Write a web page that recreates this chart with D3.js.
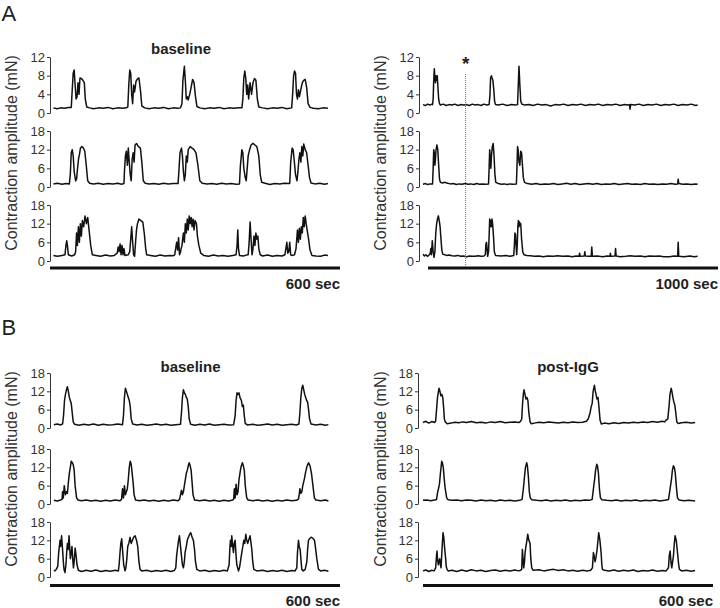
<!DOCTYPE html>
<html><head><meta charset="utf-8">
<script src="https://cdn.jsdelivr.net/npm/d3@7"></script>
<style>body{margin:0;background:#fff}svg{display:block}</style>
</head><body>
<svg id="c" width="720" height="608"></svg>
<script>
// ---------- DATA: [time (s), force (mN)] ----------
const ticks12 = [0, 4, 8, 12];
const ticks18 = [0, 6, 12, 18];
const yLabel = "Contraction amplitude (mN)";
const panelTitles = ["baseline", "baseline", "post-IgG"];
const scaleBars = ["600 sec", "1000 sec", "600 sec", "600 sec"];
const starTime = 147;

const aLeftTop = [[7,1.1],[15,0.9],[22,1.1],[30,1.0],[38,1.2],[44,1.2],[46,5],[48,8.5],[50,9.2],[52,6],[54,3],[56,3.5],[58,6.5],[60,4],[62,7.5],[65,7.4],[68,7],[71,6.5],[73,3],[76,1.3],[82,1.1],[90,0.9],[100,1.1],[110,1.0],[120,1.2],[130,0.9],[140,1.1],[150,1.0],[158,1.1],[161,1.3],[163,6],[165,9.2],[167,8.5],[169,4],[171,2],[173,6],[175,4.5],[178,6.8],[181,7.3],[184,7.5],[187,5],[190,1.5],[196,1.1],[205,0.9],[215,1.1],[225,1.0],[235,1.2],[245,0.9],[255,1.1],[264,1.0],[270,1.1],[273,2],[275,7],[278,10],[280,7],[282,3],[284,3.5],[286,2.8],[289,4],[292,5.5],[295,7.2],[298,6.5],[301,3.5],[304,1.4],[310,1.1],[320,0.9],[330,1.1],[340,1.0],[350,1.2],[360,0.9],[370,1.1],[380,1.0],[390,1.1],[397,1.1],[399,3],[401,7.5],[403,9],[405,7.5],[407,4],[409,6],[411,3],[414,6.5],[417,4],[420,6.5],[423,7.4],[426,7],[429,3],[432,1.3],[440,1.1],[450,0.9],[460,1.1],[470,1.0],[480,1.2],[490,0.9],[500,1.1],[502,4],[504,8],[506,9],[508,8.5],[510,4],[512,3],[514,5],[516,3.5],[519,5],[522,6.5],[525,7],[528,7.2],[531,5.5],[534,2],[538,1.2],[545,1.0],[555,0.9],[565,1.1],[575,1.0]];

const aLeftMid = [[7,1.0],[15,1.2],[25,0.9],[33,1.1],[40,1.0],[42,4],[44,11],[46,12],[48,10],[50,5],[53,2],[55,2.5],[57,6],[59,9],[61,10.5],[63,12.5],[66,13],[69,12.5],[72,11.5],[75,7],[78,2],[82,1.2],[90,1.0],[100,1.2],[110,0.9],[120,1.1],[130,1.0],[140,1.2],[148,0.9],[153,1.1],[154,5],[156,10],[158,11.5],[160,7],[162,12.5],[164,8],[166,4],[168,2],[170,9],[172,11],[174,8],[176,13.5],[179,14],[183,13],[187,12.5],[190,8],[193,2],[197,1.2],[205,1.0],[215,1.1],[225,0.9],[235,1.2],[245,1.0],[255,1.1],[265,1.1],[267,6],[269,11],[272,12.5],[274,10],[276,5],[278,2],[280,4],[282,10],[284,8],[286,12],[290,13],[294,12.5],[298,12],[302,11],[306,7],[310,2],[315,1.2],[325,1.0],[335,1.1],[345,0.9],[355,1.2],[365,1.0],[375,1.1],[385,0.9],[392,1.0],[394,7],[397,12],[399,11],[401,6],[404,3],[406,2],[408,6],[410,10],[413,12],[416,13.5],[420,14],[424,13.5],[428,13],[432,10],[435,4],[438,1.5],[445,1.2],[455,0.8],[465,1.1],[475,1.0],[485,1.2],[496,1.1],[498,8],[501,12.5],[503,12],[505,9],[508,4],[511,2],[513,5],[515,9],[517,11],[519,8],[521,13],[523,10],[525,13.8],[528,12],[531,11],[534,7],[537,3],[540,1.3],[548,1.0],[558,1.2],[568,0.9],[575,1.1]];

const aLeftBot = [[7,1.8],[15,1.5],[25,1.8],[31,2],[33,5],[34.6,6.5],[36,5],[38,2],[45,1.6],[51,2],[53,3],[55,9],[56.6,5],[58.7,11],[60.8,6],[62.8,12],[64.9,8],[67,13],[69.7,11],[72.5,14.5],[75.3,12],[78,14],[80.8,10],[84.2,5],[87.7,2],[95,1.8],[105,1.5],[115,1.9],[125,1.6],[133,1.8],[139,2.5],[141,4.5],[143,3],[145,5.5],[147,2],[149,5],[151,2],[153,4],[155,1.8],[162,2],[165,3],[167,7],[169,11],[171,6],[173,2],[175,1.5],[177,6],[179,10],[181,12],[184,13.5],[188,13],[192,12.5],[195,9],[198,4],[200,2],[208,1.8],[218,1.5],[228,1.9],[238,1.6],[248,1.8],[255,1.7],[258,2],[260,4],[262,6],[264,3.5],[266,7.5],[268,2],[270,3],[273,5],[276,9],[278,6],[280,12],[282,9],[284,13.5],[286,10],[288,14.5],[290,12],[292,14],[294,11],[296,13.5],[298,10],[300,13],[303,12],[305,8],[308,5],[312,2.5],[318,1.8],[328,1.5],[338,1.9],[348,1.6],[358,1.8],[368,1.5],[378,1.8],[385,2],[387,5],[388.5,10],[390,4],[392,1.8],[400,1.6],[406,1.9],[410,2],[412,6],[414,12.5],[416,7],[418,2],[420,4],[422,8],[424,5],[426,9],[428,7],[430,8],[432,4],[435,2],[440,1.6],[450,1.9],[460,1.5],[470,1.8],[480,1.6],[486,2],[488,4],[490,6],[492,2.5],[494,3],[496,6],[498,2],[500,1.8],[506,2],[509,4],[512,10],[514,6],[516,10.5],[518,7],[520,11],[522,9],[524,14],[526,11],[528,14.5],[530,12],[532,10],[535,7],[538,3.5],[542,1.8],[550,1.6],[560,1.5],[568,1.9],[575,1.8]];

const aRightTop = [[0,1.8],[8,1.6],[16,1.9],[24,1.7],[30,1.9],[33,1.8],[35,3],[37,7],[39,9.5],[41,7.5],[43,6.5],[45,8],[47,7],[49,8],[51,6],[54,3],[57,2],[60,1.7],[70,1.9],[80,1.6],[90,1.8],[100,1.7],[110,1.9],[120,1.6],[130,1.8],[140,1.7],[150,1.8],[160,1.6],[170,1.9],[180,1.7],[190,1.8],[200,1.6],[210,1.9],[220,1.7],[228,1.8],[231,4],[233,7.5],[236,8],[238,7.5],[241,7],[244,5],[247,2.5],[250,1.8],[260,1.7],[275,1.9],[290,1.6],[305,1.8],[320,1.7],[326,1.8],[328,5],[331,10],[334,6],[337,2.5],[341,1.9],[350,1.7],[365,1.8],[380,1.6],[395,1.9],[410,1.7],[425,1.8],[440,1.5],[455,1.8],[470,1.7],[485,1.9],[500,1.6],[515,1.8],[530,1.7],[545,1.9],[560,1.6],[575,1.8],[590,1.7],[605,1.9],[620,1.6],[635,1.8],[650,1.7],[665,1.9],[680,1.6],[695,1.8],[708,1.7],[712,1.8],[714,0.8],[716,1.8],[730,1.7],[745,1.9],[760,1.6],[775,1.8],[790,1.7],[805,1.9],[820,1.6],[835,1.8],[850,1.7],[865,1.9],[880,1.6],[895,1.8],[910,1.7],[925,1.9],[940,1.6],[947,1.7]];

const aRightMid = [[0,0.9],[8,1.1],[16,0.8],[24,1.0],[33,1.0],[35,6],[37,12],[39,11],[41,7],[43,9],[45,12],[48,13.5],[51,12],[54,7],[57,2.5],[60,1.5],[67,1.3],[75,1.5],[85,1.2],[95,1.0],[105,1.1],[115,0.8],[125,1.0],[135,0.9],[145,1.1],[155,0.9],[165,1.0],[175,0.8],[185,1.1],[195,0.9],[205,1.0],[215,0.9],[226,1.0],[228,6],[230,12],[232,9],[234,6],[236,10],[239,13],[242,14],[245,10],[248,4],[251,1.5],[260,1.1],[270,0.9],[280,1.0],[290,0.8],[300,1.0],[310,0.9],[322,1.0],[324,6],[326,13],[328,12],[331,8],[334,7],[337,11.5],[340,11],[343,7],[346,3],[350,1.5],[360,1.1],[375,0.9],[390,1.1],[405,0.8],[420,1.0],[435,0.9],[450,1.1],[465,0.8],[480,1.0],[495,1.2],[510,0.9],[525,1.1],[540,0.8],[555,1.0],[570,1.1],[585,0.9],[600,1.1],[615,0.8],[630,1.0],[645,0.9],[660,1.1],[675,0.8],[690,1.0],[705,1.1],[720,0.9],[735,1.0],[750,0.8],[765,1.1],[780,0.9],[795,1.0],[810,0.8],[825,1.0],[840,0.9],[855,1.1],[870,0.9],[878,1.0],[880,2.5],[882,1.1],[895,0.9],[910,1.0],[925,0.8],[940,1.0],[947,0.9]];

const aRightBot = [[0,2.2],[5,1.6],[10,2],[15,1.5],[20,1.8],[25,2.5],[27,4],[29,2],[32,6.5],[35,3],[38,1.2],[41,3],[44,9],[47,12],[50,13.5],[53,14.5],[56,13],[59,11],[62,7],[65,3.5],[68,2.2],[75,2],[82,1.8],[90,1.9],[100,1.7],[110,1.6],[120,1.8],[130,1.5],[140,1.6],[150,1.4],[160,1.6],[170,1.5],[180,1.5],[190,1.7],[200,1.5],[210,1.6],[215,2],[217,5.5],[219,6],[221,4],[223,1.5],[226,3],[228,8],[230,13.5],[232,11],[234,13],[236,11],[238,13.5],[240,12],[243,8],[246,3],[250,1.8],[260,1.7],[270,1.6],[285,1.8],[300,1.5],[313,1.8],[315,5],[317,9],[319,8.5],[321,5],[323,2],[325,5],[327,11],[329,13],[331,11],[333,12.5],[335,11.5],[337,12],[340,7],[344,3],[348,2],[358,1.8],[370,1.7],[385,1.5],[400,1.6],[415,1.4],[430,1.6],[450,1.5],[465,1.7],[480,1.5],[500,1.6],[515,1.4],[528,1.6],[538,1.5],[540,2.5],[542,1.5],[556,1.6],[558,3],[560,1.6],[570,1.5],[580,1.5],[582,4.5],[584,1.5],[600,1.6],[620,1.4],[635,1.6],[645,1.5],[646,2.5],[648,1.5],[662,1.6],[664,4],[666,1.6],[680,1.4],[700,1.5],[715,1.7],[730,1.5],[750,1.6],[765,1.4],[780,1.6],[800,1.5],[815,1.6],[830,1.4],[850,1.4],[865,1.6],[878,1.5],[880,6],[882,1.5],[900,1.4],[920,1.6],[935,1.4],[947,1.5]];

const bLeftTop = [[8,1.1],[15,1.3],[22,1.0],[26,1.3],[28,4],[30,9],[32,11],[34,12.5],[36,13.5],[38,12],[40,10],[42,9],[44,8],[46,5],[48,2],[51,1.2],[60,0.9],[70,1.2],[80,1.0],[90,1.3],[100,0.9],[110,1.2],[120,1.0],[130,1.1],[140,1.3],[150,1.1],[152,4],[154,10],[156,13],[158,12],[160,11],[162,10],[164,9],[166,7],[168,3],[171,1.3],[180,1.0],[190,1.2],[200,0.9],[210,1.1],[220,1.3],[230,1.0],[240,1.2],[250,0.9],[260,1.1],[270,1.2],[272,5],[274,10],[276,12.5],[278,11.5],[280,11],[282,10],[284,9.5],[286,7],[288,3],[291,1.2],[300,0.9],[310,1.2],[320,1.0],[330,1.3],[340,0.9],[350,1.1],[360,1.2],[370,1.0],[380,1.1],[383,4],[385,9],[387,11.5],[389,11],[391,11.5],[393,10],[396,9],[398,7],[400,7.5],[402,4],[404,1.5],[408,1.0],[420,1.2],[430,0.9],[440,1.1],[450,1.3],[460,1.0],[470,1.2],[480,0.9],[490,1.1],[500,1.2],[510,1.0],[515,1.3],[517,5],[519,10],[521,13],[523,14],[525,12.5],[527,11],[529,10],[531,9],[533,8.5],[535,6],[537,3],[540,1.3],[550,1.0],[560,1.2],[570,0.9],[576,1.1]];

const bLeftMid = [[8,1.2],[15,1.0],[22,1.3],[25,1.5],[26,4],[27.5,2],[29.5,6],[32,3],[34,4],[36,3.5],[38,7],[40,10],[42,12],[44,14],[46,13.5],[48,13],[50,11],[52,6],[55,2],[58,1.3],[65,1.1],[75,1.3],[85,1.0],[95,1.2],[105,0.9],[115,1.2],[125,1.0],[135,1.3],[145,1.1],[148,1.5],[150,5],[152,2],[154,6],[156,3],[158,4],[160,5],[162,8],[164,12],[166,14],[168,13],[170,10],[172,7],[174,3],[177,1.3],[185,1.1],[195,1.3],[205,1.0],[215,1.2],[225,0.9],[235,1.2],[245,1.0],[255,1.3],[265,1.1],[268,1.5],[270,3],[272,4.5],[274,3],[276,4],[278,6],[280,8],[282,10],[284,11],[286,12.5],[288,13.5],[290,12.5],[292,11],[294,7],[296,3],[299,1.3],[310,1.1],[320,1.3],[330,1.0],[340,1.2],[350,0.9],[360,1.2],[370,1.0],[378,1.3],[380,1.6],[381.5,5],[383,2],[385,6.5],[387,3],[389,4],[391,8],[393,10],[395,12],[398,13.5],[400,12.5],[402,11],[404,6],[407,2],[410,1.3],[420,1.1],[430,1.3],[440,1.0],[450,1.2],[460,0.9],[470,1.2],[480,1.0],[490,1.3],[500,1.1],[510,1.2],[514,1.6],[515.5,3],[517,5],[519,3.5],[521,4],[523,6],[526,8],[529,10.5],[532,12.5],[535,13.5],[538,12.5],[541,10],[544,6],[547,2],[550,1.3],[560,1.1],[570,1.3],[576,1.0]];

const bLeftBot = [[8,2.2],[10.4,2],[13,2.5],[16,3.5],[18,8],[20.7,12],[22,10],[24,13.5],[26,9],[27.6,5],[29,2.5],[31,1.5],[33,4],[34.5,8],[36,11],[37.5,9],[39.4,13.5],[41,9],[42.1,6],[44,8],[45.5,10],[47,6],[48.5,3],[50,5],[52,9.5],[54,7],[55.9,4],[58.7,2.2],[65,1.8],[75,2.2],[85,1.9],[95,2.3],[105,1.8],[115,2.1],[125,1.9],[135,2.2],[141.5,2],[143,4],[144.9,8],[146.5,11],[148.4,12.5],[150.5,8],[152.5,4],[155.3,2],[157,3],[159,6],[160.8,10],[163,11],[165.6,13],[168,11],[170.5,12],[173,13],[176,13.5],[179,12],[181.5,10],[184,5],[186.3,2.5],[190,2],[200,2.2],[210,1.8],[220,2.1],[230,1.9],[240,2.2],[250,1.8],[257,2.1],[260.2,3],[262,7],[264.3,10],[266,12],[267.8,13.5],[270,10],[272.6,6],[274,4],[276,3],[278,5],[279.5,8],[282,10],[284,12],[286.4,13],[289,14],[291.2,14.5],[294,13],[296.7,12],[299,9],[301,5],[303.6,2.5],[310,2],[320,2.2],[330,1.8],[340,2.1],[350,1.9],[360,2.2],[367,2],[370.6,4],[372,9],[373.3,12],[375,10],[376.1,13.5],[378,10],[379.6,8],[381,11],[383,12],[385,7],[386.5,4],[389.9,2],[392,3],[394,5],[396.8,8],[399,10],[400.9,12],[403,11],[405.1,14],[407,12],[409.2,11],[411,12],[414,13.5],[416,11],[417.5,9],[419.5,5],[421.6,2.5],[428,2],[440,2.2],[450,1.8],[460,2.1],[470,1.9],[480,2.2],[490,1.8],[500,2.1],[507,2],[510.6,3],[512,8],[514.1,12],[515.5,10],[517.6,9],[519,6],[521,2.5],[524,2],[528,2.5],[531.4,5],[533,9],[534.8,12],[537,12.5],[540.3,13],[543,12.8],[547.2,12],[549,10],[552,6],[555.5,2.5],[560,2],[568,2.2],[576,1.9]];

const bRightTop = [[0,1.8],[6,2.2],[12,1.6],[18,2.1],[24,1.8],[26.2,2.3],[28,6],[30,10],[32,12],[33.1,13],[35,12],[37,10.5],[39,11],[41,10],[43,6],[44.2,3],[46,2],[50,1.4],[58,1.6],[66,1.9],[74,1.7],[82,2.0],[90,1.8],[100,2.1],[110,1.7],[120,1.9],[130,1.6],[140,2.0],[150,1.8],[160,2.1],[170,1.7],[180,1.9],[190,2.0],[198,1.8],[202,2.2],[204.3,3],[206,8],[207.5,11],[209,12.5],[211,11],[213,9.5],[215,10],[217,9],[219,5],[221.5,2],[224,1.4],[230,1.6],[240,1.9],[250,1.7],[260,2.0],[270,1.8],[280,1.6],[290,1.9],[300,1.7],[310,2.0],[320,1.8],[330,1.9],[338,2.2],[342,3],[345.7,5],[348,7],[350,8],[352,12],[354.7,14],[356,12.5],[358,11],[360,9.5],[362,10],[364,7],[366.4,2.5],[369,1.3],[375,1.6],[385,1.4],[395,1.7],[405,1.5],[415,1.8],[425,1.6],[435,1.9],[445,1.7],[455,2.0],[465,1.8],[475,2.1],[485,1.9],[495,2.2],[500,2.0],[503,2.6],[506.5,3],[509,7],[511,11],[513.4,13],[515,12],[517,10],[519,8.5],[521,7.5],[523,5],[525.1,2],[528,1.5],[535,1.7],[545,1.9],[555,1.6],[563,1.8]];

const bRightMid = [[0,1.2],[8,1.3],[16,1.1],[24,1.3],[28,1.5],[30.4,4],[32,5],[34,6.5],[36,10],[38.7,14],[40,13.5],[42,12],[44,8],[46,5],[49,2],[52,1.4],[60,1.2],[70,1.3],[80,1.1],[90,1.3],[100,1.2],[110,1.0],[120,1.3],[130,1.1],[140,1.2],[150,1.0],[160,1.3],[170,1.1],[180,1.2],[190,1.0],[200,1.2],[205,1.5],[207.7,5],[210,9],[212,12],[214.6,13.5],[216,12.5],[218,9],[220,4],[222,2],[225,1.4],[235,1.2],[245,1.1],[255,1.3],[265,1.0],[275,1.2],[285,1.1],[295,1.3],[305,1.0],[315,1.2],[325,1.1],[335,1.3],[345,1.2],[350,1.5],[352.6,5],[355,8],[357,11],[359.5,13],[361,12.5],[363,10],[365,5],[367.1,2],[370,1.4],[380,1.2],[390,1.1],[400,1.3],[410,1.0],[420,1.2],[430,1.1],[440,1.3],[450,1.0],[460,1.2],[470,1.1],[480,1.3],[490,1.0],[500,1.2],[508,1.5],[511.3,5],[514,8],[516,11],[518,12.5],[520,12],[522,10],[524,6],[526.5,2],[530,1.3],[540,1.1],[550,1.2],[563,1.0]];

const bRightBot = [[0,2.0],[6,2.3],[12,1.8],[18,2.2],[23,2.0],[26.2,3],[28,7],[29,8.5],[30,6],[31.7,4],[33,5],[34.5,6],[36,4],[37.3,3],[39,8],[41.4,14.5],[43,13],[45,9],[46.9,6],[48,3.5],[49.7,2.5],[52,2],[60,2.2],[70,1.8],[80,2.3],[90,1.9],[100,2.4],[110,2.0],[120,2.2],[130,1.8],[140,2.1],[150,2.3],[160,1.9],[170,2.2],[180,2.0],[190,2.3],[198,2.0],[202,2.2],[204.3,2.5],[205.6,9],[207,6],[208.4,3],[210,5],[211.2,8],[213,10],[215,12],[216.7,14],[219,12],[221.5,11],[223,6],[225,3],[228,2.2],[240,2.4],[250,2.0],[260,2.3],[270,2.5],[280,2.1],[290,2.4],[300,2.0],[310,2.2],[320,1.9],[330,2.2],[340,2.0],[347,2.2],[350.5,3],[352.6,8],[354,7],[356,5],[358,6.5],[360.2,9],[362,12],[363.6,14.5],[366,12],[368.5,8],[370,4],[371.2,2.5],[375,2.2],[385,2.0],[395,2.3],[405,1.9],[415,2.2],[425,2.0],[435,2.3],[445,1.8],[455,2.1],[465,2.0],[475,2.3],[485,1.9],[495,2.1],[503,2.0],[507.9,3],[509.5,7],[511.3,8.5],[513,5],[514.7,3],[516.5,5],[518.2,7],[520,11],[521.6,13.5],[524,12],[527.2,7],[529,4],[530.6,2.5],[535,2.0],[545,2.2],[555,1.9],[563,2.1]];

// ---------- LAYOUT ----------
const FONT = "'Liberation Sans', Arial, Helvetica, sans-serif";
const svg = d3.select("#c");

const columns = [
  {axisX:50,  x0:50,  x1:340, dur:600,  tops:[57,131,205],  h:56, traces:[aLeftTop,aLeftMid,aLeftBot], ticks:[ticks12,ticks18,ticks18],
   labX:16.5, labY:153, bar:[50,340,268], barText:scaleBars[0], barTextY:289},
  {axisX:419, x0:423, x1:713, dur:1000, tops:[57,131,205],  h:56, traces:[aRightTop,aRightMid,aRightBot], ticks:[ticks12,ticks18,ticks18],
   labX:386, labY:153, bar:[428,718,268], barText:scaleBars[1], barTextY:289},
  {axisX:50,  x0:50,  x1:340, dur:600,  tops:[373,449,522], h:55, traces:[bLeftTop,bLeftMid,bLeftBot], ticks:[ticks18,ticks18,ticks18],
   labX:16.5, labY:469, bar:[50,340,585.5], barText:scaleBars[2], barTextY:606},
  {axisX:418, x0:423, x1:713, dur:600,  tops:[373,449,522], h:55, traces:[bRightTop,bRightMid,bRightBot], ticks:[ticks18,ticks18,ticks18],
   labX:386, labY:469, bar:[423,713,585.5], barText:scaleBars[3], barTextY:606}
];

columns.forEach(col => {
  const x = d3.scaleLinear().domain([0, col.dur]).range([col.x0, col.x1]);
  col.x = x;
  col.traces.forEach((tr, i) => {
    const t = col.ticks[i];
    const yMax = t[t.length - 1];
    const top = col.tops[i];
    const y = d3.scaleLinear().domain([0, yMax]).range([top + col.h, top]);
    const ax = svg.append("g").attr("transform", `translate(${col.axisX},0)`)
      .call(d3.axisLeft(y).tickValues(t).tickSize(3).tickSizeOuter(0).tickPadding(2));
    ax.select(".domain").attr("stroke", "#333").attr("stroke-width", 1);
    ax.selectAll(".tick line").attr("stroke", "#333");
    ax.selectAll(".tick text").attr("fill", "#333").style("font-family", FONT).style("font-size", "13px");
    const line = d3.line().x(d => x(d[0])).y(d => y(d[1]));
    svg.append("path").datum(tr).attr("d", line)
      .attr("fill", "none").attr("stroke", "#111").attr("stroke-width", 1.5)
      .attr("stroke-linejoin", "round");
  });
  svg.append("text").attr("transform", `translate(${col.labX},${col.labY}) rotate(-90)`)
    .attr("text-anchor", "middle").attr("fill", "#333")
    .style("font-family", FONT).style("font-size", "16px").text(yLabel);
  svg.append("line").attr("x1", col.bar[0]).attr("x2", col.bar[1])
    .attr("y1", col.bar[2]).attr("y2", col.bar[2]).attr("stroke", "#111").attr("stroke-width", 2.8);
  svg.append("text").attr("x", col.bar[1]).attr("y", col.barTextY).attr("text-anchor", "end")
    .attr("fill", "#222").style("font-family", FONT).style("font-size", "15px").style("font-weight", "bold")
    .text(col.barText);
});

// titles
const titlePos = [[181, 54], [190.5, 371.5], [568, 371.5]];
panelTitles.forEach((t, i) => {
  svg.append("text").attr("x", titlePos[i][0]).attr("y", titlePos[i][1]).attr("text-anchor", "middle")
    .attr("fill", "#222").style("font-family", FONT).style("font-size", "15px").style("font-weight", "bold").text(t);
});

// section letters
[["A", 20.5], ["B", 335]].forEach(([s, yy]) => {
  svg.append("text").attr("x", 1.5).attr("y", yy).attr("fill", "#222")
    .style("font-family", FONT).style("font-size", "22px").text(s);
});

// dotted marker with asterisk
const xs = columns[1].x(starTime);
svg.append("line").attr("x1", xs).attr("x2", xs).attr("y1", 74).attr("y2", 267)
  .attr("stroke", "#666").attr("stroke-width", 1).attr("stroke-dasharray", "1,1");
svg.append("text").attr("x", xs).attr("y", 70).attr("text-anchor", "middle").attr("fill", "#222")
  .style("font-family", FONT).style("font-size", "19px").style("font-weight", "bold").text("*");
</script>
</body></html>
